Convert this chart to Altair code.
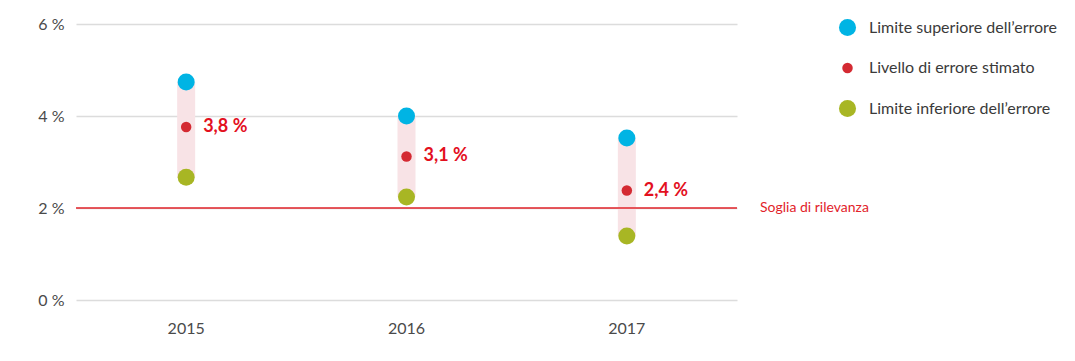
import altair as alt
import pandas as pd

years = ["2015", "2016", "2017"]
upper = [4.74, 4.0, 3.52]
estimate = [3.76, 3.12, 2.38]
lower = [2.67, 2.24, 1.39]
labels = ["3,8 %", "3,1 %", "2,4 %"]
threshold = 2.0
threshold_label = "Soglia di rilevanza"
series = ["Limite superiore dell\u2019errore", "Livello di errore stimato", "Limite inferiore dell\u2019errore"]
series_colors = ["#00b4e4", "#d42a32", "#a8b624"]
series_sizes = [290, 110, 290]

FONT = "Liberation Sans Narrow, Lato, sans-serif"

wide = pd.DataFrame({"year": years, "upper": upper, "estimate": estimate,
                     "lower": lower, "label": labels})
long = pd.DataFrame({
    "year": years * 3,
    "value": upper + estimate + lower,
    "series": [series[0]] * 3 + [series[1]] * 3 + [series[2]] * 3,
})

xenc = alt.X("year:N", title=None,
             axis=alt.Axis(labelAngle=0, domain=False, ticks=False, labelPadding=20,
                           labelFont=FONT, labelFontSize=16, labelColor="#4a4a4a"),
             scale=alt.Scale(paddingInner=0, paddingOuter=0))
yscale = alt.Scale(domain=[0, 6])
yaxis = alt.Axis(values=[0, 2, 4, 6], labelExpr="datum.value + ' %'", domain=False, ticks=False,
                 labelPadding=12, labelFont=FONT, labelFontSize=16, labelColor="#4a4a4a",
                 grid=True, gridColor="#dcdcdc", gridWidth=1.5)

bars = alt.Chart(wide).mark_rule(strokeWidth=18, color="#f8e3e6").encode(
    x=xenc,
    y=alt.Y("upper:Q", title=None, scale=yscale, axis=yaxis),
    y2="lower:Q",
)

thr = alt.Chart(pd.DataFrame({"v": [threshold]})).mark_rule(color="#e2232a", strokeWidth=1.6).encode(
    y=alt.Y("v:Q", scale=yscale),
)
thr_text = alt.Chart(pd.DataFrame({"v": [threshold], "t": [threshold_label]})).mark_text(
    align="left", baseline="middle", font=FONT, fontSize=14, color="#e2232a", dx=23
).encode(y=alt.Y("v:Q", scale=yscale), x=alt.value(661), text="t:N")

leg = alt.Legend(title=None, orient="none", legendX=762, legendY=-6,
                 labelFont=FONT, labelFontSize=16, labelColor="#3a3a3a", labelLimit=0,
                 rowPadding=19, labelOffset=12, symbolOpacity=1)

points = alt.Chart(long).mark_circle(opacity=1).encode(
    x=xenc,
    y=alt.Y("value:Q", scale=yscale),
    color=alt.Color("series:N", scale=alt.Scale(domain=series, range=series_colors),
                    sort=series, legend=leg),
    size=alt.Size("series:N", scale=alt.Scale(type="ordinal", domain=series, range=series_sizes),
                  sort=series, legend=leg),
)

text = alt.Chart(wide).mark_text(align="left", baseline="middle", dx=17, font=FONT,
                                 fontSize=18, fontWeight="bold", color="#e3101e").encode(
    x=xenc,
    y=alt.Y("estimate:Q", scale=yscale),
    text="label:N",
)

chart = alt.layer(bars, thr, thr_text, points, text).properties(
    width=661, height=276,
    autosize=alt.AutoSizeParams(type="none"),
    padding={"left": 68, "top": 16, "right": 330, "bottom": 50},
).configure(background="white").configure_view(strokeWidth=0, stroke="transparent")

chart.save("out.html", embed_options={"renderer": "svg", "actions": False})
